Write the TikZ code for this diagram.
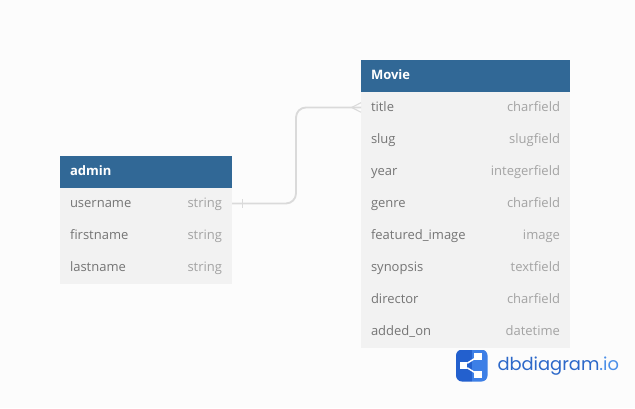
\documentclass[tikz,border=0pt]{standalone}
\usepackage{fontspec}
\setmainfont{Open Sans}
\newfontfamily\logofont{Poppins}
\usetikzlibrary{positioning, calc}
\definecolor{pagebg}{HTML}{FCFCFC}
\definecolor{headblue}{HTML}{316896}
\definecolor{rowgray}{HTML}{F2F2F2}
\definecolor{fieldgray}{HTML}{757575}
\definecolor{typegray}{HTML}{A3A3A3}
\definecolor{linkgray}{HTML}{DADADA}
\definecolor{logodark}{HTML}{2360CE}
\definecolor{logolight}{HTML}{3D7FE6}
\definecolor{logotext}{HTML}{2C68C9}
\definecolor{logoio}{HTML}{4B8FE8}
\tikzset{
  every node/.style = {inner sep=0pt, outer sep=0pt},
  tablehead/.style  = {fill=headblue, text=white, minimum height=24pt, font=\fontsize{9.75}{12}\selectfont\bfseries,
                       text height=7.4pt, text depth=2pt, align=left, inner xsep=7.5pt},
  adminw/.style     = {minimum width=129pt, text width=114pt},
  moview/.style     = {minimum width=156.75pt, text width=141.75pt},
  row/.style        = {fill=rowgray, text=fieldgray, minimum height=24pt, font=\fontsize{9.75}{12}\selectfont,
                       text height=7.4pt, text depth=2pt, align=left, inner xsep=7.5pt},
  typelabel/.style  = {text=typegray, font=\fontsize{9.75}{12}\selectfont, text height=7.4pt, text depth=2pt,
                       anchor=east, xshift=-7.5pt},
  link/.style       = {draw=linkgray, line width=1.4pt},
  logosquare/.style = {fill=white, minimum size=5.6pt}
}
\begin{document}
\begin{tikzpicture}[x=0.75pt, y=-0.75pt]
  \fill[pagebg] (0,0) rectangle (635,408);
  \useasboundingbox (0,0) rectangle (635,408);

  % admin table
  \node[tablehead, adminw, anchor=north west] (admin) at (60,156) {admin};
  \node[row, adminw, below=0pt of admin]     (username)  {username};
  \node[row, adminw, below=0pt of username]  (firstname) {firstname};
  \node[row, adminw, below=0pt of firstname] (lastname)  {lastname};
  \node[typelabel] (usernametype)  at (username.east)  {string};
  \node[typelabel] (firstnametype) at (firstname.east) {string};
  \node[typelabel] (lastnametype)  at (lastname.east)  {string};

  % Movie table
  \node[tablehead, moview, anchor=north west] (movie) at (361,60) {Movie};
  \node[row, moview, below=0pt of movie]    (title)    {title};
  \node[row, moview, below=0pt of title]    (slug)     {slug};
  \node[row, moview, below=0pt of slug]     (year)     {year};
  \node[row, moview, below=0pt of year]     (genre)    {genre};
  \node[row, moview, below=0pt of genre]    (featured) {featured\_image};
  \node[row, moview, below=0pt of featured] (synopsis) {synopsis};
  \node[row, moview, below=0pt of synopsis] (director) {director};
  \node[row, moview, below=0pt of director] (addedon)  {added\_on};
  \node[typelabel] (titletype)    at (title.east)    {charfield};
  \node[typelabel] (slugtype)     at (slug.east)     {slugfield};
  \node[typelabel] (yeartype)     at (year.east)     {integerfield};
  \node[typelabel] (genretype)    at (genre.east)    {charfield};
  \node[typelabel] (featuredtype) at (featured.east) {image};
  \node[typelabel] (synopsistype) at (synopsis.east) {textfield};
  \node[typelabel] (directortype) at (director.east) {charfield};
  \node[typelabel] (addedontype)  at (addedon.east)  {datetime};

  % relation
  \coordinate (linkstart) at ($(username.east)+(0,0.4pt)$);
  \coordinate (linkend)   at ($(title.west)+(0,0.4pt)$);
  \coordinate (bendlow)   at (296,0 |- linkstart);
  \coordinate (bendhigh)  at (296,0 |- linkend);
  \coordinate (tickup)    at ($(linkstart)+(7.5pt,-3.2pt)$);
  \coordinate (tickdown)  at ($(linkstart)+(7.5pt,3.2pt)$);
  \coordinate (crowtip)   at ($(linkend)+(-7pt,0)$);
  \coordinate (crowup)    at ($(linkend)+(0,-3.6pt)$);
  \coordinate (crowdown)  at ($(linkend)+(0,3.6pt)$);
  \draw[link, rounded corners=7.5pt] (linkstart) -- (bendlow) -- (bendhigh) -- (linkend);
  \draw[link, line width=0.6pt] (tickup) -- (tickdown);
  \draw[link, line width=0.8pt] (crowup) -- (crowtip) -- (crowdown);

  % logo
  \begin{scope}
    \clip[rounded corners=4.5pt] (456,349.5) rectangle (487.5,381.5);
    \fill[logodark] (456,349.5) rectangle (471.5,381.5);
    \fill[logolight] (471.5,349.5) rectangle (487.5,381.5);
  \end{scope}
  \node[logosquare] (logoleft)  at (463.5,365.5) {};
  \node[logosquare] (logotop)   at (478,356.5) {};
  \node[logosquare] (logobottom) at (478,374.5) {};
  \draw[white, line width=1.1pt] (logotop) -- (logoleft) -- (logobottom);
  \node[anchor=west, text=logotext, font=\logofont\fontsize{13.4}{16}\selectfont,
        text height=10pt, text depth=3pt] (logotext) at (497.5,366)
    {dbdiagram\textcolor{logoio}{.io}};
\end{tikzpicture}
\end{document}
